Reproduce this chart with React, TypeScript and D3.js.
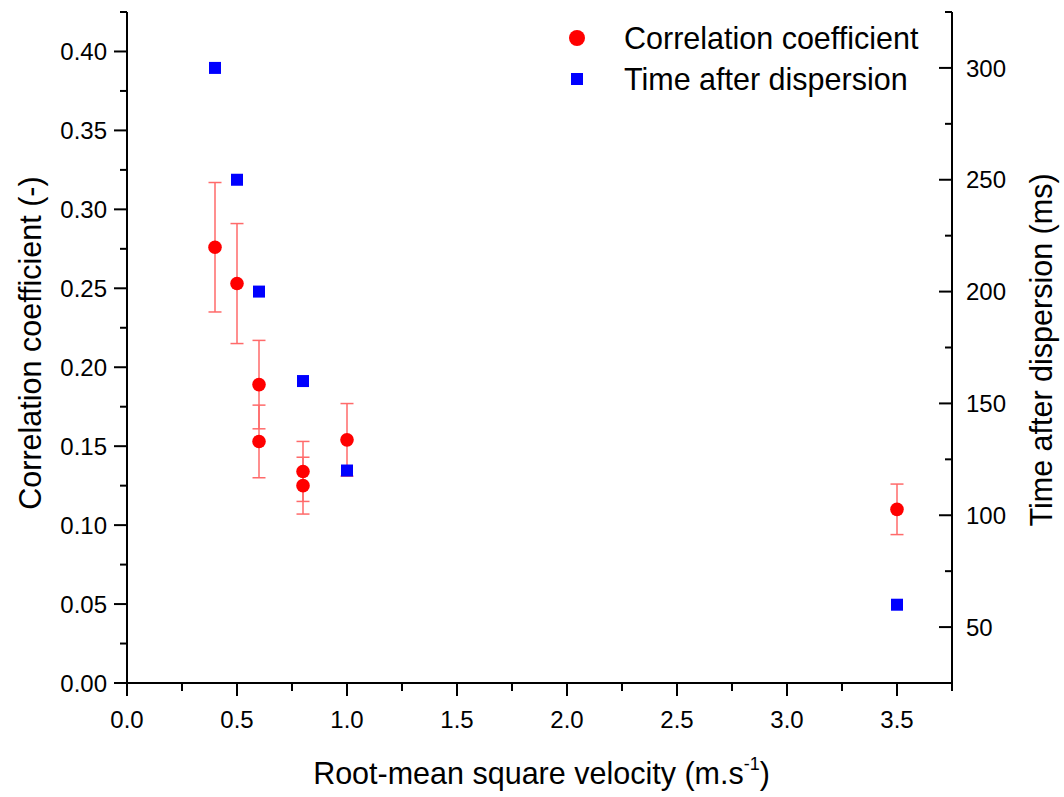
import React from "react";
import * as d3 from "d3";

// Root-mean square velocity (m/s) for each measurement
const corrVelocity = [0.4, 0.5, 0.6, 0.6, 0.8, 0.8, 1.0, 3.5];
// Correlation coefficient and its standard deviation
const corrValue = [0.276, 0.253, 0.189, 0.153, 0.134, 0.125, 0.154, 0.11];
const corrError = [0.041, 0.038, 0.028, 0.023, 0.019, 0.018, 0.023, 0.016];

// Time after dispersion (ms)
const timeVelocity = [0.4, 0.5, 0.6, 0.8, 1.0, 3.5];
const timeValue = [300, 250, 200, 160, 120, 60];

const xTicks = [0, 0.5, 1.0, 1.5, 2.0, 2.5, 3.0, 3.5];
const yLeftTicks = [0, 0.05, 0.1, 0.15, 0.2, 0.25, 0.3, 0.35, 0.4];
const yRightTicks = [50, 100, 150, 200, 250, 300];

const W = 1064;
const H = 797;
const left = 127;
const right = 952;
const top = 12;
const bottom = 683;

const FONT = "'Liberation Sans', Arial, sans-serif";
const RED = "#ff0000";
const BLUE = "#0000ff";
const ERR = "#ff6a6a";

export default function App() {
  const x = d3.scaleLinear().domain([0, 3.75]).range([left, right]);
  const yL = d3.scaleLinear().domain([0, 0.425]).range([bottom, top]);
  const yR = d3.scaleLinear().domain([25, 325]).range([bottom, top]);

  const xMinor = d3.range(0, 3.7501, 0.25);
  const yLMinor = d3.range(0, 0.42501, 0.025);
  const yRMinor = d3.range(25, 325.01, 25);

  const isMajor = (v: number, list: number[]) => list.some((t) => Math.abs(t - v) < 1e-6);

  const cap = 6.5;
  const sq = 12;

  return (
    <svg
      width={W}
      height={H}
      style={{ position: "absolute", left: 0, top: 0, background: "#fff" }}
      fontFamily={FONT}
    >
      {/* error bars */}
      <g stroke={ERR} strokeWidth={1.5} fill="none">
        {corrVelocity.map((v, i) => {
          const cx = x(v);
          const y1 = yL(corrValue[i] + corrError[i]);
          const y2 = yL(corrValue[i] - corrError[i]);
          return (
            <g key={i}>
              <line x1={cx} x2={cx} y1={y1} y2={y2} />
              <line x1={cx - cap} x2={cx + cap} y1={y1} y2={y1} />
              <line x1={cx - cap} x2={cx + cap} y1={y2} y2={y2} />
            </g>
          );
        })}
      </g>

      {/* time after dispersion */}
      <g fill={BLUE}>
        {timeVelocity.map((v, i) => (
          <rect key={i} x={x(v) - sq / 2} y={yR(timeValue[i]) - sq / 2} width={sq} height={sq} />
        ))}
      </g>

      {/* correlation coefficient */}
      <g fill={RED}>
        {corrVelocity.map((v, i) => (
          <circle key={i} cx={x(v)} cy={yL(corrValue[i])} r={6.8} />
        ))}
      </g>

      {/* axes */}
      <g stroke="#000" strokeWidth={2} fill="none">
        <line x1={left} x2={left} y1={top} y2={bottom + 1} />
        <line x1={right} x2={right} y1={top} y2={bottom + 1} />
        <line x1={left - 1} x2={right + 1} y1={bottom} y2={bottom} />
        {xMinor.map((v) => (
          <line key={"x" + v} x1={x(v)} x2={x(v)} y1={bottom} y2={bottom + (isMajor(v, xTicks) ? 13 : 8)} />
        ))}
        {yLMinor.map((v) => (
          <line key={"l" + v} x1={left} x2={left - (isMajor(v, yLeftTicks) ? 13 : 7)} y1={yL(v)} y2={yL(v)} />
        ))}
        {yRMinor.map((v) => (
          <line key={"r" + v} x1={right} x2={right - (isMajor(v, yRightTicks) ? 13 : 7)} y1={yR(v)} y2={yR(v)} />
        ))}
      </g>

      {/* tick labels */}
      <g fontSize={24} fill="#000">
        {xTicks.map((v) => (
          <text key={v} x={x(v)} y={bottom + 45} textAnchor="middle">
            {d3.format(".1f")(v)}
          </text>
        ))}
        {yLeftTicks.map((v) => (
          <text key={v} x={left - 20} y={yL(v)} dy="0.36em" textAnchor="end">
            {d3.format(".2f")(v)}
          </text>
        ))}
        {yRightTicks.map((v) => (
          <text key={v} x={right + 14} y={yR(v)} dy="0.36em" textAnchor="start">
            {v}
          </text>
        ))}
      </g>

      {/* axis titles */}
      <text x={(left + right) / 2 + 2} y={784} textAnchor="middle" fontSize={30.5} fill="#000">
        Root-mean square velocity (m.s
        <tspan fontSize={18} dy={-14}>-1</tspan>
        <tspan dy={14}>)</tspan>
      </text>
      <text
        transform={`translate(41, 343) rotate(-90)`}
        textAnchor="middle"
        fontSize={30.5}
        fill="#000"
      >
        Correlation coefficient (-)
      </text>
      <text
        transform={`translate(1052, 350) rotate(-90)`}
        textAnchor="middle"
        fontSize={30.5}
        fill="#000"
      >
        Time after dispersion (ms)
      </text>

      {/* legend */}
      <g>
        <circle cx={577} cy={38} r={8} fill={RED} />
        <rect x={571} y={73} width={12} height={12} fill={BLUE} />
        <text x={624} y={38} dy="0.36em" fontSize={30.5} fill="#000">
          Correlation coefficient
        </text>
        <text x={624} y={79} dy="0.36em" fontSize={30.5} fill="#000">
          Time after dispersion
        </text>
      </g>
    </svg>
  );
}
